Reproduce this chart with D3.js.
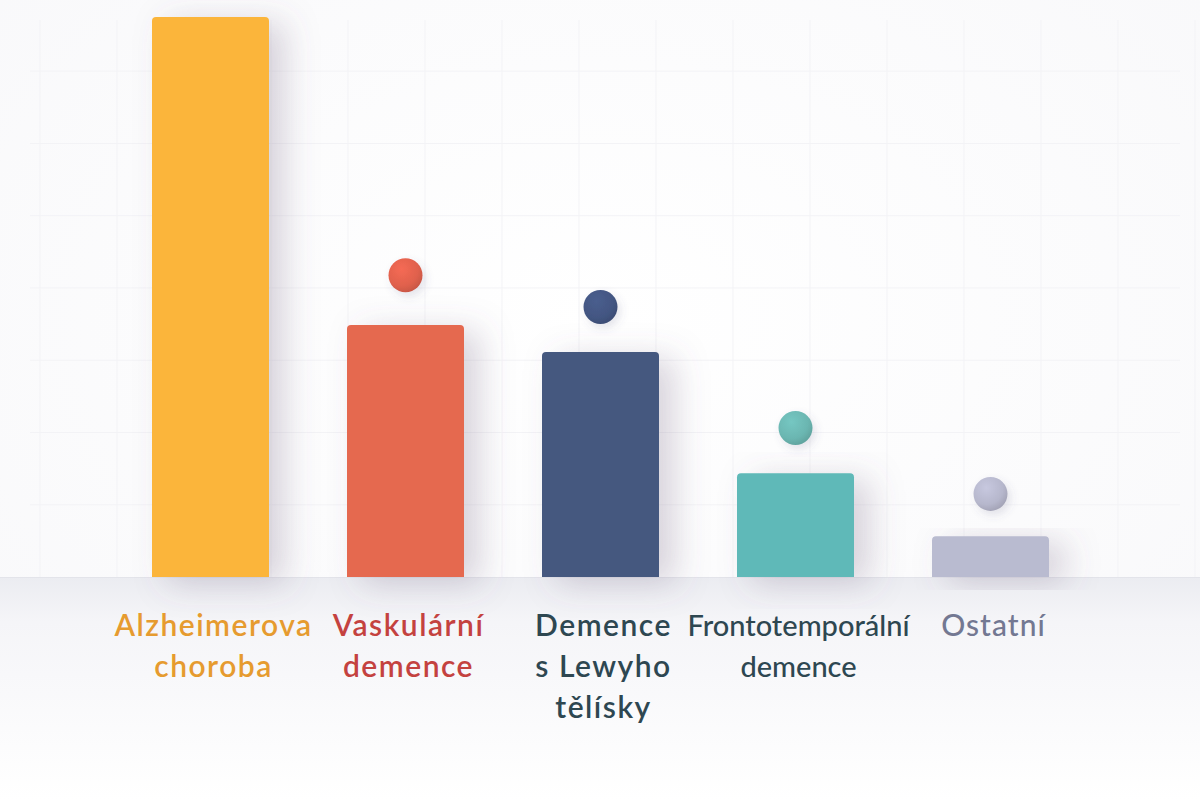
<!DOCTYPE html>
<html>
<head>
<meta charset="utf-8">
<script src="https://cdn.jsdelivr.net/npm/d3@7"></script>
<style>
  html, body { margin: 0; padding: 0; background: #ffffff; }
  svg { display: block; }
</style>
</head>
<body>
<svg id="chart" width="1200" height="800"></svg>
<script>
// ---- data ----
const categories = ["Alzheimerova choroba", "Vaskulární demence", "Demence s Lewyho tělísky", "Frontotemporální demence", "Ostatní"];
const labelLines = [["Alzheimerova", "choroba"], ["Vaskulární", "demence"], ["Demence", "s Lewyho", "tělísky"], ["Frontotemporální", "demence"], ["Ostatní"]];
const values = [62, 27.9, 24.9, 11.5, 4.5];
const markerValues = [null, 33.4, 29.9, 16.5, 9.2];
const barColors = ["#FBB53B", "#E56950", "#44587F", "#5FB9B8", "#B9BBD0"];
const markerColors = ["#F5A93A", "#E0614D", "#435682", "#6BB6B1", "#B6B7CC"];
const labelColors = ["#E69B2F", "#C4423F", "#2E4751", "#2E4751", "#737892"];
const gridTicks = [0, 8, 16, 24, 32, 40, 48, 56, 64];

// ---- layout ----
const W = 1200, H = 800;
const svg = d3.select("#chart");
const defs = svg.append("defs");

const x = d3.scaleBand().domain(categories).range([152, 1049]).paddingInner(0.4).paddingOuter(0);
const y = d3.scaleLinear().domain([0, 62]).range([577, 17]);
const baseY = y(0);

// background
const bg = defs.append("radialGradient").attr("id", "bg").attr("cx", "50%").attr("cy", "40%").attr("r", "75%");
bg.append("stop").attr("offset", "0%").attr("stop-color", "#ffffff");
bg.append("stop").attr("offset", "100%").attr("stop-color", "#f8f8fa");
svg.append("rect").attr("width", W).attr("height", H).attr("fill", "url(#bg)");

// floor gradient below the baseline
const fl = defs.append("linearGradient").attr("id", "floor").attr("x1", 0).attr("x2", 0).attr("y1", 0).attr("y2", 1);
fl.append("stop").attr("offset", "0%").attr("stop-color", "#ebecf1");
fl.append("stop").attr("offset", "20%").attr("stop-color", "#f5f5f8");
fl.append("stop").attr("offset", "100%").attr("stop-color", "#ffffff");
svg.append("rect").attr("x", 0).attr("y", baseY).attr("width", W).attr("height", H - baseY).attr("fill", "url(#floor)");

// faint grid
const gx = d3.scaleLinear().domain([0, 15]).range([40, 1195]);
svg.append("g").selectAll("line").data(d3.range(0, 16)).join("line")
  .attr("x1", d => gx(d)).attr("x2", d => gx(d))
  .attr("y1", 20).attr("y2", baseY)
  .attr("stroke", "#f3f3f6").attr("stroke-width", 1);
svg.append("g").selectAll("line").data(gridTicks.slice(1)).join("line")
  .attr("x1", 30).attr("x2", 1180)
  .attr("y1", d => y(d)).attr("y2", d => y(d))
  .attr("stroke", "#f3f3f6").attr("stroke-width", 1);

// baseline
svg.append("line").attr("x1", 0).attr("x2", W).attr("y1", baseY + 0.5).attr("y2", baseY + 0.5)
  .attr("stroke", "#e3e4ea").attr("stroke-width", 1);

// shadow filter
const f = defs.append("filter").attr("id", "shadow").attr("x", "-60%").attr("y", "-20%").attr("width", "220%").attr("height", "150%");
f.append("feDropShadow").attr("dx", 16).attr("dy", 6).attr("stdDeviation", 16)
  .attr("flood-color", "#6a5a7c").attr("flood-opacity", 0.26);

const fd = defs.append("filter").attr("id", "dshadow").attr("x", "-60%").attr("y", "-60%").attr("width", "220%").attr("height", "220%");
fd.append("feDropShadow").attr("dx", 3).attr("dy", 4).attr("stdDeviation", 4)
  .attr("flood-color", "#5c5a80").attr("flood-opacity", 0.16);

// marker gradients
markerColors.forEach((c, i) => {
  const g = defs.append("radialGradient").attr("id", "mg" + i).attr("cx", "38%").attr("cy", "32%").attr("r", "70%");
  g.append("stop").attr("offset", "0%").attr("stop-color", d3.color(c).brighter(0.25));
  g.append("stop").attr("offset", "70%").attr("stop-color", c);
  g.append("stop").attr("offset", "100%").attr("stop-color", d3.color(c).darker(0.3));
});

// bars (rounded top)
function barPath(x0, y0, w, h, r) {
  return `M${x0},${y0 + h} L${x0},${y0 + r} Q${x0},${y0} ${x0 + r},${y0} L${x0 + w - r},${y0} Q${x0 + w},${y0} ${x0 + w},${y0 + r} L${x0 + w},${y0 + h} Z`;
}
const data = categories.map((c, i) => ({ c, i, v: values[i], m: markerValues[i] }));

svg.append("g").selectAll("path").data(data).join("path")
  .attr("d", d => barPath(x(d.c), y(d.v), x.bandwidth(), baseY - y(d.v), 4))
  .attr("fill", d => barColors[d.i])
  .attr("filter", "url(#shadow)");

// markers
svg.append("g").selectAll("circle").data(data.filter(d => d.m != null)).join("circle")
  .attr("cx", d => x(d.c) + x.bandwidth() / 2)
  .attr("cy", d => y(d.m))
  .attr("r", 17)
  .attr("fill", d => `url(#mg${d.i})`)
  .attr("filter", "url(#dshadow)");

// labels
const lg = svg.append("g");
data.forEach(d => {
  const cx = x(d.c) + x.bandwidth() / 2 + 3;
  const t = lg.append("text")
    .attr("x", cx)
    .attr("y", 636)
    .attr("text-anchor", "middle")
    .attr("font-family", "Lato, 'Open Sans', sans-serif")
    .attr("font-size", d.i === 3 ? 29 : 30)
    .attr("letter-spacing", d.i === 3 ? 0 : (d.i === 4 ? 1 : 1.5))
    .attr("font-weight", d.i === 3 || d.i === 4 ? 500 : 600)
    .attr("fill", labelColors[d.i]);
  labelLines[d.i].forEach((ln, k) => {
    t.append("tspan").attr("x", cx).attr("dy", k === 0 ? 0 : 41).text(ln);
  });
});
</script>
</body>
</html>
